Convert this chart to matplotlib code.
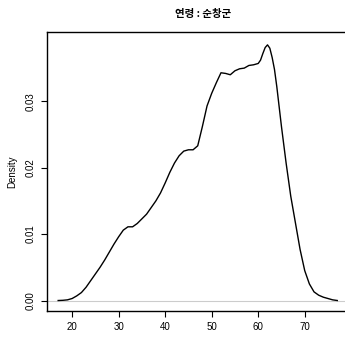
import matplotlib
matplotlib.use("Agg")
import matplotlib.pyplot as plt

ages = [17, 18, 19, 20, 21, 22, 23, 24, 25, 26, 27, 28, 29, 30, 31, 32, 33, 34, 35,
        36, 37, 38, 39, 40, 41, 42, 43, 44, 45, 46, 47, 48, 49, 50, 51, 52, 53, 54,
        55, 56, 57, 58, 59, 60, 60.5, 61, 61.5, 62, 62.5, 63, 63.5, 64, 64.5, 65,
        66, 67, 68, 69, 70, 71, 72, 73, 74, 75, 76, 77]
density = [0.0, 0.00003, 0.0001, 0.0003, 0.0007, 0.0012, 0.0020, 0.0030, 0.0040,
           0.0050, 0.0061, 0.0073, 0.0085, 0.0096, 0.0106, 0.0111, 0.0111, 0.0116,
           0.0123, 0.0130, 0.0140, 0.0150, 0.0162, 0.0177, 0.0193, 0.0207, 0.0218,
           0.0225, 0.0227, 0.0227, 0.0233, 0.0262, 0.0293, 0.0312, 0.0328, 0.0343,
           0.0342, 0.0340, 0.0346, 0.0349, 0.0350, 0.0354, 0.0355, 0.0357, 0.0362,
           0.0372, 0.0381, 0.0385, 0.0380, 0.0366, 0.0348, 0.0322, 0.0292, 0.0262,
           0.0207, 0.0157, 0.0117, 0.0077, 0.0045, 0.0025, 0.0013, 0.0008, 0.0005,
           0.0003, 0.0001, 0.0]
xticks = [20, 30, 40, 50, 60, 70]
yticks = [0.00, 0.01, 0.02, 0.03]
title = "연령 : 순창군"
ylabel = "Density"

plt.rcParams['font.family'] = ['Liberation Sans', 'DejaVu Sans']

fig = plt.figure(figsize=(3.45, 3.39), dpi=100)
ax = fig.add_axes([47/345, 1-311/339, 1-47/345+0.01, (311-32)/339])
ax.axhline(0, color='#cccccc', lw=0.8, zorder=1)
ax.plot(ages, density, color='black', lw=1.0, zorder=2)
ax.set_xlim(14.6, 79.4)
ax.set_ylim(-0.00158, 0.04044)
ax.set_xticks(xticks)
ax.set_xticklabels([str(t) for t in xticks])
ax.set_yticks(yticks)
ax.set_yticklabels([f"{t:.2f}" for t in yticks], rotation=90, va='center')
ax.tick_params(labelsize=7, length=4, width=0.8, pad=4)
for s in ax.spines.values():
    s.set_linewidth(1.0)
ax.set_ylabel(ylabel, fontsize=7, labelpad=6)
fig.text(203/345, 1-14/339, title, ha='center', va='center', fontsize=7.5,
         fontweight='bold', family=['Noto Sans CJK KR', 'DejaVu Sans'])
fig.savefig("out.png", dpi=100)
